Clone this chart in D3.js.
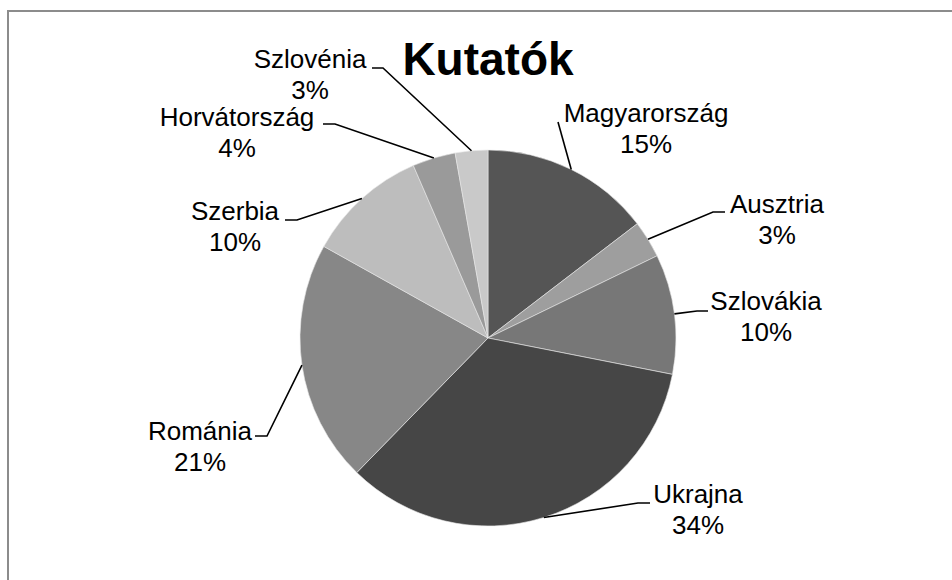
<!DOCTYPE html>
<html>
<head>
<meta charset="utf-8">
<script src="https://cdn.jsdelivr.net/npm/d3@7"></script>
<style>
  html, body { margin: 0; padding: 0; background: #fff; }
  svg { display: block; font-family: "Liberation Sans", Arial, sans-serif; }
</style>
</head>
<body>
<div id="chart"></div>
<script>
// Kutatók — pie of researchers by country, clockwise from 12 o'clock

const countries = ["Magyarország", "Ausztria", "Szlovákia", "Ukrajna", "Románia", "Szerbia", "Horvátország", "Szlovénia"];
const shares = [14.6, 3.2, 10.3, 34.2, 20.8, 10.4, 3.7, 2.8];
const pctLabels = ["15%", "3%", "10%", "34%", "21%", "10%", "4%", "3%"];
const fills = ["#555555", "#9e9e9e", "#777777", "#464646", "#878787", "#bdbdbd", "#9a9a9a", "#c9c9c9"];

// label placement (text centre / baseline, leader elbow) as offsets from pie centre
const labelPos = [
  { dx: 158, dy: -216, elbow: [70, -216], tail: null },
  { dx: 289, dy: -125, elbow: [225, -126], tail: [237, -126] },
  { dx: 278, dy: -28, elbow: [209, -27], tail: [220, -27] },
  { dx: 210, dy: 165, elbow: [150, 165], tail: [162, 165] },
  { dx: -288, dy: 102, elbow: [-221, 98], tail: [-233, 98] },
  { dx: -253, dy: -118, elbow: [-191, -118], tail: [-203, -118] },
  { dx: -251, dy: -212, elbow: [-153, -214], tail: [-165, -214] },
  { dx: -178, dy: -270, elbow: [-105, -270], tail: [-116, -270] }
];

const W = 952, H = 580;
const cx = 488, cy = 338, R = 188;

const svg = d3.select("#chart").append("svg").attr("width", W).attr("height", H);

svg.append("rect")
  .attr("x", 8).attr("y", 11).attr("width", W + 20).attr("height", H + 20)
  .attr("fill", "none").attr("stroke", "#8c8c8c").attr("stroke-width", 2);

svg.append("text")
  .attr("x", cx).attr("y", 75)
  .attr("text-anchor", "middle")
  .attr("font-size", 46).attr("font-weight", "bold")
  .attr("fill", "#000")
  .text("Kutatók");

const data = countries.map((c, i) => ({ name: c, value: shares[i], pct: pctLabels[i], fill: fills[i], pos: labelPos[i] }));

const pie = d3.pie().sort(null).value(d => d.value);
const arc = d3.arc().innerRadius(0).outerRadius(R);
const arcs = pie(data);

const g = svg.append("g").attr("transform", `translate(${cx},${cy})`);

g.selectAll("path.slice").data(arcs).join("path")
  .attr("class", "slice")
  .attr("d", arc)
  .attr("fill", d => d.data.fill)
  .attr("stroke", "#e8e8e8")
  .attr("stroke-width", 0.6);

// leaders start on the rim at each slice's mid angle
const rimPoint = d => {
  const a = (d.startAngle + d.endAngle) / 2;
  return [Math.sin(a) * R, -Math.cos(a) * R];
};

const line = d3.line();
g.selectAll("path.leader").data(arcs).join("path")
  .attr("class", "leader")
  .attr("fill", "none").attr("stroke", "#000").attr("stroke-width", 1.6)
  .attr("d", d => {
    const pts = [rimPoint(d), d.data.pos.elbow];
    if (d.data.pos.tail) pts.push(d.data.pos.tail);
    return line(pts);
  });

const lbl = g.selectAll("text.lbl").data(arcs).join("text")
  .attr("class", "lbl")
  .attr("text-anchor", "middle")
  .attr("font-size", 26)
  .attr("fill", "#000");

lbl.append("tspan")
  .attr("x", d => d.data.pos.dx).attr("y", d => d.data.pos.dy)
  .text(d => d.data.name);
lbl.append("tspan")
  .attr("x", d => d.data.pos.dx).attr("y", d => d.data.pos.dy + 31)
  .text(d => d.data.pct);
</script>
</body>
</html>
